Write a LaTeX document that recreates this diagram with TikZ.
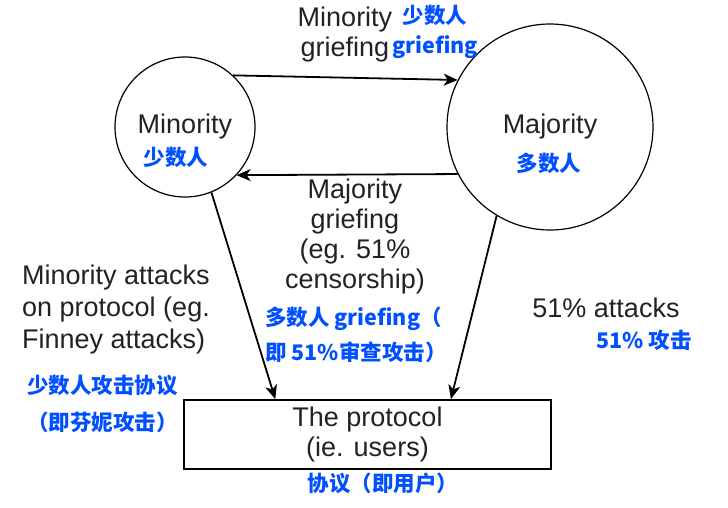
\documentclass[tikz,border=0pt]{standalone}
\usepackage{fontspec}
\setmainfont{Liberation Sans}
\newfontfamily\cjk{Noto Sans CJK SC}
\usetikzlibrary{arrows.meta}
\definecolor{cnblue}{RGB}{0,80,255}
\definecolor{ink}{RGB}{34,34,34}
\tikzset{
  en/.style={font=\fontsize{27}{#1}\selectfont, text=ink, align=center, inner sep=0pt},
  en/.default=30,
  cn/.style={font=\cjk\bfseries\fontsize{21.5}{#1}\selectfont, text=cnblue, align=center, inner sep=0pt},
  cn/.default=36,
  party/.style={draw, circle, line width=1.2pt, inner sep=0pt},
  link/.style={line width=1.8pt, -{Stealth[length=14pt,width=12pt,inset=4pt]}},
}
\begin{document}
\begin{tikzpicture}[x=1pt,y=-1pt]
\useasboundingbox (0,0) rectangle (728,507);

\node[party, en, minimum size=140pt] (min) at (185,127) {Minority};
\node[party, en, minimum size=206pt] (maj) at (550,127) {Majority};
\node[draw, en, line width=1.8pt, minimum width=367pt, minimum height=69pt] (proto) at (367.5,434.5) {The protocol\\(ie. users)};

\node[cn] (mincn) at (176,157) {少数人};
\node[cn] (majcn) at (549,163) {多数人};
\node[cn] (protocn) at (383,483) {协议（即用户）};

% arrows between the parties
\draw[link] (min.47) -- (maj.153);
\draw[link] (maj.207) -- (min.-43);
\node[en] (mingrief) at (345,35) {Minority\\griefing};
\node[cn=30] (mingriefcn) at (435,32) {少数人\\griefing};
\node[en] (majgrief) at (355,237) {Majority\\griefing\\(eg. 51\%\\censorship)};
\node[cn=35, align=left, anchor=west] (majgriefcn) at (265,334.5) {多数人 griefing（\\即 51\%审查攻击）};

% attacks on the protocol
\draw[link] (min.-68) -- (proto.159);
\draw[link] (maj.-121) -- (proto.23.5);
\node[en=32, align=left, anchor=west] (minatk) at (22,310) {Minority attacks\\on protocol (eg.\\Finney attacks)};
\node[cn=37, align=left, anchor=west] (minatkcn) at (27,403.5) {少数人攻击协议\\（即芬妮攻击）};
\node[en] (majatk) at (606,308) {51\% attacks};
\node[cn] (majatkcn) at (644,340) {51\% 攻击};
\end{tikzpicture}
\end{document}
